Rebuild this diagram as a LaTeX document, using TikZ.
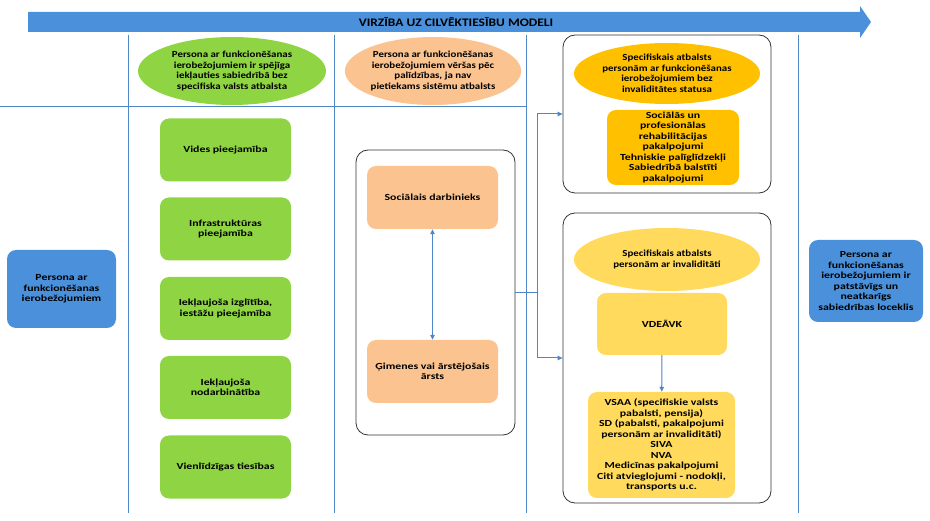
\documentclass[tikz,border=0pt]{standalone}
\usepackage{fontspec}
\setmainfont{Carlito}[FakeStretch=1.27]
\newfontfamily\slimfont{Carlito}[FakeStretch=1.17]
\usetikzlibrary{arrows.meta,shapes.geometric}

\definecolor{bandblue}{HTML}{4A90DA}
\definecolor{lineblue}{HTML}{4F86C6}
\definecolor{grassgreen}{HTML}{8ED443}
\definecolor{peach}{HTML}{FBC38F}
\definecolor{amber}{HTML}{FFC000}
\definecolor{butter}{HTML}{FFDA5C}

\begin{document}
\begin{tikzpicture}[x=1pt,y=-1pt,
  txt/.style={align=center,font=\bfseries\fontsize{9.3}{10.5}\selectfont,inner sep=1pt},
  box/.style={txt,rounded corners=9pt},
  blob/.style={txt,ellipse,inner sep=0pt,font=\slimfont\bfseries\fontsize{9.3}{10.5}\selectfont},
  frame/.style={draw=black!80,rounded corners=12pt,line width=0.8pt},
  guide/.style={draw=lineblue,line width=0.6pt},
  link/.style={draw=lineblue,line width=1pt,-{Triangle[length=5pt,width=4.5pt]}}]
\useasboundingbox (0,0) rectangle (930,521);

% banner
\fill[bandblue] (28,12) -- (860,12) -- (860,6) -- (871,22) -- (860,38) -- (860,32) -- (28,32) -- cycle;
\node[font=\slimfont\bfseries\fontsize{11.5}{12}\selectfont] (banner) at (456,22) {VIRZĪBA UZ CILVĒKTIESĪBU MODELI};

% column lines
\draw[guide] (128,35) -- (128,513);
\draw[guide] (334,35) -- (334,513);
\draw[guide] (526,35) -- (526,513);
\draw[guide] (798,35) -- (798,513);
\draw[guide] (0,106) -- (526,106);

% start and end
\node[box,fill=bandblue,minimum width=109pt,minimum height=78pt] (start) at (61.5,289)
  {Persona ar\\funkcionēšanas\\ierobežojumiem};
\node[box,fill=bandblue,minimum width=114pt,minimum height=82pt] (goal) at (866,281)
  {Persona ar\\funkcionēšanas\\ierobežojumiem ir\\patstāvīgs un\\neatkarīgs\\sabiedrības loceklis};

% column 1
\node[blob,fill=grassgreen,minimum width=188pt,minimum height=68pt] (head1) at (232,71)
  {Persona ar funkcionēšanas\\ierobežojumiem ir spējīga\\iekļauties sabiedrībā bez\\specifiska valsts atbalsta};
\node[box,fill=grassgreen,minimum width=131pt,minimum height=63pt] (env) at (225.5,150) {Vides pieejamība};
\node[box,fill=grassgreen,minimum width=131pt,minimum height=63pt] (infra) at (225.5,229) {Infrastruktūras\\pieejamība};
\node[box,fill=grassgreen,minimum width=131pt,minimum height=63pt] (edu) at (225.5,308.5) {Iekļaujoša izglītība,\\iestāžu pieejamība};
\node[box,fill=grassgreen,minimum width=131pt,minimum height=63pt] (work) at (225.5,387.5) {Iekļaujoša\\nodarbinātība};
\node[box,fill=grassgreen,minimum width=131pt,minimum height=63pt] (rights) at (225.5,467) {Vienlīdzīgas tiesības};

% column 2
\node[blob,fill=peach,minimum width=176pt,minimum height=68pt] (head2) at (433,71)
  {Persona ar funkcionēšanas\\ierobežojumiem vēršas pēc\\palīdzības, ja nav\\pietiekams sistēmu atbalsts};
\node[frame,minimum width=159pt,minimum height=285pt] (mid) at (435.5,292.5) {};
\node[box,fill=peach,minimum width=131pt,minimum height=63pt] (social) at (432.5,197.5) {Sociālais darbinieks};
\node[box,fill=peach,minimum width=131pt,minimum height=63pt] (doctor) at (432.5,371.5) {Ģimenes vai ārstējošais\\ārsts};
\draw[link,{Triangle[length=5pt,width=4.5pt]}-{Triangle[length=5pt,width=4.5pt]}] (social) -- (doctor);

% column 3
\node[frame,minimum width=208pt,minimum height=158pt] (topbox) at (667,114) {};
\node[blob,fill=amber,minimum width=186pt,minimum height=61pt] (head3) at (667,73.5)
  {Specifiskais atbalsts\\personām ar funkcionēšanas\\ierobežojumiem bez\\invaliditātes statusa};
\node[box,fill=amber,minimum width=132pt,minimum height=75pt] (rehab) at (673,147.5)
  {Sociālās un\\profesionālas\\rehabilitācijas\\pakalpojumi\\Tehniskie palīglīdzekļi\\Sabiedrībā balstīti\\pakalpojumi};
\node[frame,minimum width=208pt,minimum height=290pt] (botbox) at (667,358) {};
\node[blob,fill=butter,minimum width=186pt,minimum height=63pt] (head4) at (667,259.5)
  {Specifiskais atbalsts\\personām ar invaliditāti};
\node[box,fill=butter,minimum width=130pt,minimum height=62pt] (vdeavk) at (662,324) {VDEĀVK};
\node[box,fill=butter,minimum width=147pt,minimum height=106pt] (bene) at (661.5,445)
  {VSAA (specifiskie valsts\\pabalsti, pensija)\\SD (pabalsti, pakalpojumi\\personām ar invaliditāti)\\SIVA\\NVA\\Medicīnas pakalpojumi\\Citi atvieglojumi - nodokļi,\\transports u.c.};
\draw[link] (vdeavk) -- (bene);

% branch to column 3
\coordinate (fork) at (537,292.5);
\draw[link,-] (mid.east) -- (fork);
\draw[link] (fork) |- (topbox.west);
\draw[link] (fork) |- (botbox.west);
\end{tikzpicture}
\end{document}
